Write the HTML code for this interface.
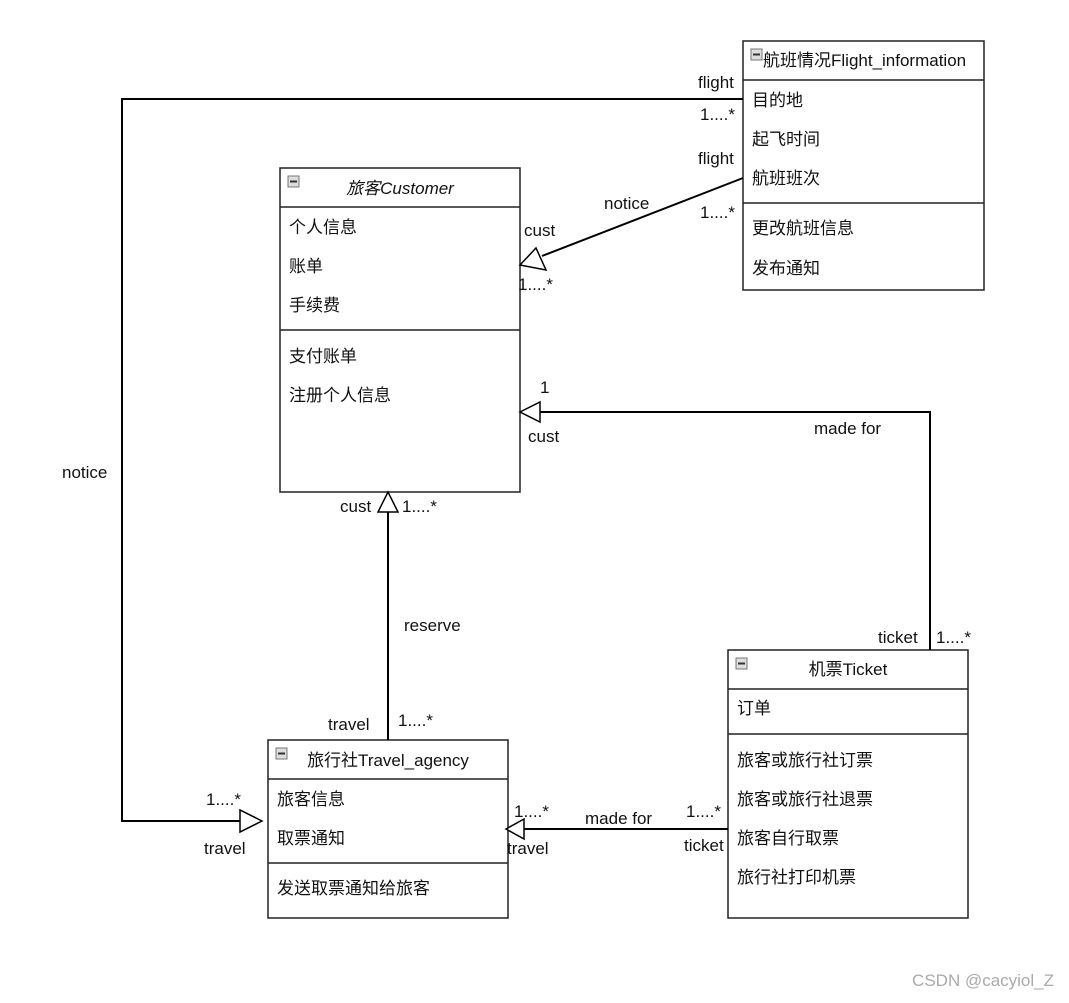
<!DOCTYPE html>
<html><head><meta charset="utf-8"><style>
html,body{margin:0;padding:0;background:#fff}
svg text{font-family:"Liberation Sans","Noto Sans CJK SC",sans-serif;font-size:17px;fill:#111}
</style></head><body>
<svg width="1069" height="998" xmlns="http://www.w3.org/2000/svg">
<g fill="#fff" stroke="#222" stroke-width="1.5">
<rect x="280" y="168" width="240" height="324"/>
<line x1="280" y1="207" x2="520" y2="207"/><line x1="280" y1="330" x2="520" y2="330"/>
<rect x="743" y="41" width="241" height="249"/>
<line x1="743" y1="80" x2="984" y2="80"/><line x1="743" y1="203" x2="984" y2="203"/>
<rect x="268" y="740" width="240" height="178"/>
<line x1="268" y1="779" x2="508" y2="779"/><line x1="268" y1="863" x2="508" y2="863"/>
<rect x="728" y="650" width="240" height="268"/>
<line x1="728" y1="689" x2="968" y2="689"/><line x1="728" y1="734" x2="968" y2="734"/>
</g>
<g fill="#ddd" stroke="#777" stroke-width="1">
<rect x="288" y="176" width="11" height="11"/><rect x="751" y="49" width="11" height="11"/>
<rect x="276" y="748" width="11" height="11"/><rect x="736" y="658" width="11" height="11"/>
</g>
<g stroke="#333" stroke-width="2"><line x1="290" y1="181.5" x2="297" y2="181.5"/><line x1="753" y1="54.5" x2="760" y2="54.5"/><line x1="278" y1="753.5" x2="285" y2="753.5"/><line x1="738" y1="663.5" x2="745" y2="663.5"/></g>
<g fill="none" stroke="#000" stroke-width="2">
<polyline points="743,99 122,99 122,821 240,821"/>
<line x1="743" y1="178" x2="542" y2="256"/>
<polyline points="930,650 930,412 540,412"/>
<line x1="388" y1="740" x2="388" y2="512"/>
<line x1="728" y1="829" x2="524" y2="829"/>
</g>
<g fill="#fff" stroke="#000" stroke-width="1.5">
<polygon points="262,821 240,810 240,832"/>
<polygon points="520,265 536,248 546,270"/>
<polygon points="520,412 540,402 540,422"/>
<polygon points="388,492 378,512 398,512"/>
<polygon points="506,829 524,819 524,839"/>
</g>
<text x="400" y="194" text-anchor="middle" font-style="italic">旅客Customer</text>
<text x="289" y="233">个人信息</text><text x="289" y="272">账单</text><text x="289" y="311">手续费</text>
<text x="289" y="362">支付账单</text><text x="289" y="401">注册个人信息</text>
<text x="763" y="66" font-size="16">航班情况Flight_information</text>
<text x="752" y="106">目的地</text><text x="752" y="145">起飞时间</text><text x="752" y="184">航班班次</text>
<text x="752" y="234">更改航班信息</text><text x="752" y="274">发布通知</text>
<text x="388" y="766" text-anchor="middle">旅行社Travel_agency</text>
<text x="277" y="805">旅客信息</text><text x="277" y="844">取票通知</text><text x="277" y="894">发送取票通知给旅客</text>
<text x="848" y="675" text-anchor="middle">机票Ticket</text>
<text x="737" y="714">订单</text>
<text x="737" y="766">旅客或旅行社订票</text><text x="737" y="805">旅客或旅行社退票</text><text x="737" y="844">旅客自行取票</text><text x="737" y="883">旅行社打印机票</text>
<g font-size="16">
<text x="698" y="88">flight</text><text x="700" y="120">1....*</text>
<text x="698" y="164">flight</text><text x="700" y="218">1....*</text>
<text x="604" y="209">notice</text><text x="524" y="236">cust</text><text x="518" y="290">1....*</text>
<text x="62" y="478">notice</text>
<text x="206" y="805">1....*</text><text x="204" y="854">travel</text>
<text x="540" y="393">1</text><text x="528" y="442">cust</text><text x="814" y="434">made for</text>
<text x="878" y="643">ticket</text><text x="936" y="643">1....*</text>
<text x="340" y="512">cust</text><text x="402" y="512">1....*</text>
<text x="404" y="631">reserve</text>
<text x="328" y="730">travel</text><text x="398" y="726">1....*</text>
<text x="514" y="817">1....*</text><text x="585" y="824">made for</text><text x="686" y="817">1....*</text>
<text x="507" y="854">travel</text><text x="684" y="851">ticket</text>
</g>
<text x="1054" y="986" text-anchor="end" font-size="12" style="fill:#aaa">CSDN @cacyiol_Z</text>
</svg>
</body></html>
